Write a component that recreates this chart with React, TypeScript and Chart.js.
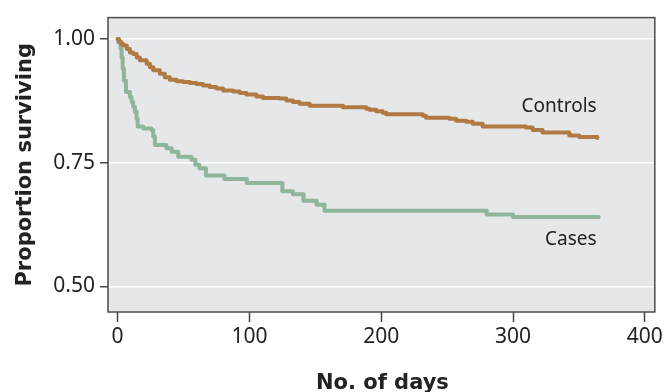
import React, { useEffect, useRef } from "react";
import { Chart, registerables } from "chart.js";

Chart.register(...registerables);

// ---- Data ----
const controlsDays = [0, 1, 2.5, 4.3, 7, 9.3, 11.8, 14.5, 16.9, 22, 24.5, 27, 32, 35.8, 39.6, 44.7, 49.7, 54.8, 59.8, 64.8, 69.9, 75, 80, 87.6, 92.7, 97.7, 105.3, 110.3, 123, 128, 133, 138, 145.7, 160.8, 171, 188.6, 191, 196.2, 201.2, 203.8, 231.5, 234, 251.7, 256.8, 264.4, 269.4, 277, 309.8, 314.9, 322.4, 342.7, 350.2, 364];
const controlsSurvival = [1.0, 0.995, 0.99, 0.987, 0.98, 0.973, 0.97, 0.963, 0.957, 0.95, 0.943, 0.937, 0.93, 0.923, 0.918, 0.915, 0.913, 0.911, 0.909, 0.906, 0.903, 0.9, 0.896, 0.894, 0.891, 0.888, 0.884, 0.881, 0.88, 0.876, 0.873, 0.869, 0.865, 0.865, 0.862, 0.859, 0.857, 0.854, 0.851, 0.848, 0.845, 0.841, 0.839, 0.835, 0.833, 0.829, 0.823, 0.821, 0.816, 0.811, 0.805, 0.802, 0.8];

const casesDays = [0, 0.5, 2.3, 3, 3.8, 4.8, 6.3, 9.3, 10.6, 11.8, 13.1, 14.4, 15.2, 19.4, 25.7, 27, 28.3, 37, 41, 46, 56, 59, 62, 67, 81, 98, 125, 133, 141, 151, 157, 280, 300, 365];
const casesSurvival = [1.0, 0.993, 0.98, 0.963, 0.94, 0.916, 0.893, 0.883, 0.873, 0.863, 0.853, 0.839, 0.823, 0.819, 0.816, 0.803, 0.786, 0.779, 0.772, 0.762, 0.756, 0.746, 0.739, 0.724, 0.717, 0.709, 0.692, 0.686, 0.673, 0.665, 0.653, 0.645, 0.64, 0.64];

const seriesNames = ["Controls", "Cases"];
const xTickValues = [0, 100, 200, 300, 400];
const yTickValues = [0.5, 0.75, 1.0];
const xTitle = "No. of days";
const yTitle = "Proportion surviving";

// label anchor (data coordinates) for the inline series labels
const labelAnchorDay = 365;
const labelAnchorValues = [0.853, 0.584];

const COLORS = ["#b07a42", "#8fb59b"];
const TICK_FONT = "'Noto Sans', sans-serif";
const TITLE_FONT = "'DejaVu Sans', sans-serif";

export default function App() {
  const ref = useRef<HTMLCanvasElement>(null);

  useEffect(() => {
    document.body.style.margin = "0";
    const canvas = ref.current;
    if (!canvas) return;

    const decor = {
      id: "decor",
      beforeDraw(chart: any) {
        const { ctx, chartArea: a } = chart;
        ctx.save();
        ctx.fillStyle = "#e6e7e9";
        ctx.fillRect(a.left, a.top, a.right - a.left, a.bottom - a.top);
        ctx.restore();
      },
      beforeDatasetsDraw(chart: any) {
        const { ctx, chartArea: a } = chart;
        ctx.save();
        ctx.strokeStyle = "#4a4a4a";
        ctx.lineWidth = 1.5;
        ctx.strokeRect(a.left, a.top, a.right - a.left, a.bottom - a.top);
        ctx.restore();
      },
      afterDraw(chart: any) {
        const { ctx, chartArea: a } = chart;
        const xs = chart.scales.x;
        const ys = chart.scales.y;
        ctx.save();
        ctx.fillStyle = "#222";
        ctx.font = `19px ${TICK_FONT}`;
        ctx.textAlign = "right";
        ctx.textBaseline = "alphabetic";
        seriesNames.forEach((n, i) => {
          ctx.fillText(n, xs.getPixelForValue(labelAnchorDay) - 2, ys.getPixelForValue(labelAnchorValues[i]));
        });
        ctx.font = `bold 21px ${TITLE_FONT}`;
        ctx.textAlign = "center";
        ctx.fillText(xTitle, (a.left + a.right) / 2 + 1, 389);
        ctx.translate(26, (a.top + a.bottom) / 2);
        ctx.rotate(-Math.PI / 2);
        ctx.textBaseline = "middle";
        ctx.fillText(yTitle, 0, 0);
        ctx.restore();
      },
    };

    const lineStyle = {
      borderWidth: 4,
      pointRadius: 0,
      stepped: true,
      fill: false,
      borderJoinStyle: "round",
      borderCapStyle: "round",
    };

    const chart = new Chart(canvas, {
      type: "line",
      data: {
        datasets: [
          {
            label: seriesNames[0],
            data: controlsDays.map((d, i) => ({ x: d, y: controlsSurvival[i] })),
            borderColor: COLORS[0],
            ...lineStyle,
          },
          {
            label: seriesNames[1],
            data: casesDays.map((d, i) => ({ x: d, y: casesSurvival[i] })),
            borderColor: COLORS[1],
            ...lineStyle,
          },
        ],
      } as any,
      options: {
        responsive: false,
        animation: false,
        devicePixelRatio: 1,
        layout: { padding: { top: 15, right: 10, left: 0, bottom: 0 } },
        plugins: { legend: { display: false }, tooltip: { enabled: false } },
        scales: {
          x: {
            type: "linear",
            min: -7.3,
            max: 407.6,
            afterBuildTicks: (s: any) => {
              s.ticks = xTickValues.map((v) => ({ value: v }));
            },
            afterFit: (s: any) => {
              s.height = 80;
            },
            grid: {
              drawOnChartArea: false,
              drawTicks: true,
              tickLength: 10,
              tickColor: "#444",
              tickWidth: 1.5,
            },
            border: { display: false },
            ticks: {
              font: { family: TICK_FONT, size: 21 },
              color: "#222",
              padding: 2,
              maxRotation: 0,
              autoSkip: false,
              callback: (v: any) => String(v),
            },
          },
          y: {
            type: "linear",
            min: 0.448,
            max: 1.0435,
            afterBuildTicks: (s: any) => {
              s.ticks = yTickValues.map((v) => ({ value: v }));
            },
            afterFit: (s: any) => {
              s.width = 108;
            },
            grid: {
              color: "#ffffff",
              lineWidth: 1.5,
              drawTicks: true,
              tickLength: 8,
              tickColor: "#444",
              tickWidth: 1.5,
            },
            border: { display: false },
            ticks: {
              font: { family: TICK_FONT, size: 21 },
              color: "#222",
              padding: 5,
              autoSkip: false,
              callback: (v: any) => Number(v).toFixed(2),
            },
          },
        },
      },
      plugins: [decor],
    });

    return () => chart.destroy();
  }, []);

  return (
    <div style={{ position: "absolute", left: 0, top: 0, width: 665, height: 392 }}>
      <canvas ref={ref} width={665} height={392} style={{ display: "block" }} />
    </div>
  );
}
